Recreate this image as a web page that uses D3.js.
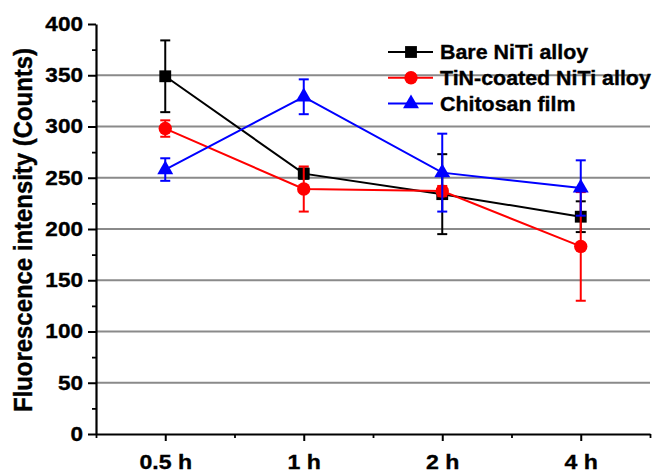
<!DOCTYPE html>
<html>
<head>
<meta charset="utf-8">
<script src="https://cdn.jsdelivr.net/npm/d3@7"></script>
<style>
  body { margin: 0; background: #fff; }
  text { font-family: "Liberation Sans", Arial, sans-serif; font-weight: bold; stroke: currentColor; stroke-width: 0.35px; }
</style>
</head>
<body>
<svg width="653" height="474"></svg>
<script>
// data
var times = ["0.5 h", "1 h", "2 h", "4 h"];
var bareMean = [349, 254, 234, 212];
var bareErr = [35, 5, 39, 15];
var tinMean = [298, 239, 237, 183];
var tinErr = [8, 22, 5, 53];
var chitoMean = [258, 329, 255, 240];
var chitoErr = [11, 17, 38, 27];
var yTicks = [0, 50, 100, 150, 200, 250, 300, 350, 400];
var yMinor = [25, 75, 125, 175, 225, 275, 325, 375];
var xMinor = [-0.5, 0.5, 1.5, 2.5, 3.5];

var series = [
  { name: "Bare NiTi alloy", mean: bareMean, err: bareErr, color: "#000000", shape: d3.symbolSquare },
  { name: "TiN-coated NiTi alloy", mean: tinMean, err: tinErr, color: "#ff0000", shape: d3.symbolCircle },
  { name: "Chitosan film", mean: chitoMean, err: chitoErr, color: "#0000ff", shape: d3.symbolTriangle }
];

var svg = d3.select("svg");

var x = d3.scaleLinear().domain([-0.5, 3.5]).range([96, 650]);
var y = d3.scaleLinear().domain([0, 400]).range([434, 24]);

// the figure's lettering is a bit wider than Liberation Sans, stretch it sideways
function stretch(sel, sx) {
  sel.each(function () {
    var t = d3.select(this);
    var tx = +t.attr("x") || 0;
    t.attr("transform", "translate(" + tx + ",0) scale(" + sx + ",1) translate(" + (-tx) + ",0)");
  });
}

// gridlines
svg.append("g")
  .selectAll("line")
  .data(yTicks.filter(function (d) { return d > 0 && d < 400; }))
  .enter()
  .append("line")
  .attr("x1", x(-0.5))
  .attr("x2", x(3.5))
  .attr("y1", function (d) { return y(d); })
  .attr("y2", function (d) { return y(d); })
  .attr("stroke", "#8a8a8a")
  .attr("stroke-width", 1.8);

// minor ticks
svg.append("g")
  .attr("transform", "translate(96,0)")
  .call(d3.axisLeft(y).tickValues(yMinor).tickSize(4).tickFormat(""))
  .call(function (g) { g.select(".domain").remove(); })
  .selectAll("line").attr("stroke-width", 1.8);
svg.append("g")
  .attr("transform", "translate(0,434)")
  .call(d3.axisBottom(x).tickValues(xMinor).tickSize(4).tickFormat(""))
  .call(function (g) { g.select(".domain").remove(); })
  .selectAll("line").attr("stroke-width", 1.8);

// y axis
var yAxis = svg.append("g")
  .attr("transform", "translate(96,0)")
  .call(d3.axisLeft(y).tickValues(yTicks).tickSize(8).tickSizeOuter(0).tickPadding(5));
yAxis.select(".domain").attr("stroke-width", 2.2);
yAxis.selectAll("line").attr("stroke-width", 2);
yAxis.selectAll("text").attr("font-size", 20).attr("fill", "#000").call(stretch, 1.13);

// x axis
var xAxis = svg.append("g")
  .attr("transform", "translate(0,434)")
  .call(d3.axisBottom(x).tickValues([0, 1, 2, 3]).tickSize(7).tickSizeOuter(0).tickPadding(13)
    .tickFormat(function (d) { return times[d]; }));
xAxis.select(".domain").attr("stroke-width", 2.2);
xAxis.selectAll("line").attr("stroke-width", 2);
xAxis.selectAll("text").attr("font-size", 21).attr("fill", "#000").call(stretch, 1.1);

// y title
svg.append("text")
  .attr("transform", "translate(32,230) rotate(-90) scale(1.04,1.13)")
  .attr("text-anchor", "middle")
  .attr("font-size", 23)
  .attr("fill", "#000")
  .text("Fluorescence intensity (Counts)");

var line = d3.line()
  .x(function (d, i) { return x(i); })
  .y(function (d) { return y(d); });

series.forEach(function (s) {
  var g = svg.append("g");
  g.append("path")
    .attr("d", line(s.mean))
    .attr("fill", "none")
    .attr("stroke", s.color)
    .attr("stroke-width", 2);

  var eb = g.selectAll(".eb").data(s.mean).enter().append("g");
  eb.append("line")
    .attr("x1", function (d, i) { return x(i); })
    .attr("x2", function (d, i) { return x(i); })
    .attr("y1", function (d, i) { return y(d - s.err[i]); })
    .attr("y2", function (d, i) { return y(d + s.err[i]); })
    .attr("stroke", s.color).attr("stroke-width", 2);
  [-1, 1].forEach(function (k) {
    eb.append("line")
      .attr("x1", function (d, i) { return x(i) - 5; })
      .attr("x2", function (d, i) { return x(i) + 5; })
      .attr("y1", function (d, i) { return y(d + k * s.err[i]); })
      .attr("y2", function (d, i) { return y(d + k * s.err[i]); })
      .attr("stroke", s.color).attr("stroke-width", 2);
  });

  g.selectAll(".m").data(s.mean).enter()
    .append("path")
    .attr("d", d3.symbol().type(s.shape).size(s.shape === d3.symbolTriangle ? 110 : 140))
    .attr("transform", function (d, i) { return "translate(" + x(i) + "," + y(d) + ")"; })
    .attr("fill", s.color);
});

// legend
var leg = svg.append("g");
series.forEach(function (s, i) {
  var ly = 52 + i * 25.8;
  leg.append("line")
    .attr("x1", 388).attr("x2", 433)
    .attr("y1", ly).attr("y2", ly)
    .attr("stroke", s.color).attr("stroke-width", 2);
  leg.append("path")
    .attr("d", d3.symbol().type(s.shape).size(s.shape === d3.symbolTriangle ? 110 : 140))
    .attr("transform", "translate(411," + ly + ")")
    .attr("fill", s.color);
  leg.append("text")
    .attr("x", 440)
    .attr("y", ly + 7)
    .attr("font-size", 20)
    .attr("fill", "#000")
    .text(s.name)
    .call(stretch, 1.07);
});
</script>
</body>
</html>
